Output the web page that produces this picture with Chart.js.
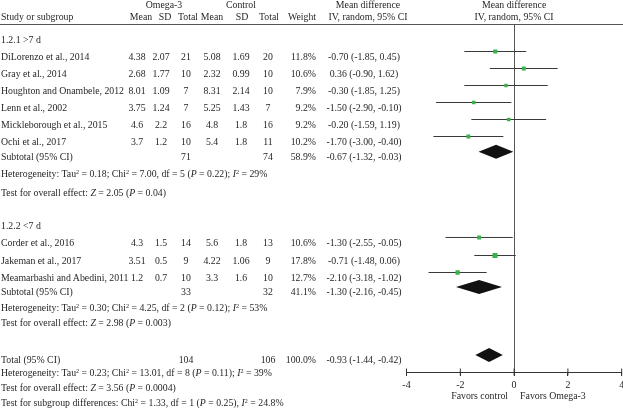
<!DOCTYPE html>
<html><head><meta charset="utf-8">
<script src="https://cdn.jsdelivr.net/npm/chart.js@4"></script>
<style>
html,body{margin:0;padding:0;background:#fff;}
#wrap{position:relative;width:623px;height:418px;overflow:hidden;font-family:"Liberation Serif","Times New Roman",serif;font-size:9.8px;color:#231f20;}
#c{position:absolute;left:0;top:0;}
.t{position:absolute;white-space:nowrap;line-height:12px;transform:translateY(-50%);}
.t.c{transform:translate(-50%,-50%);}
.t.r{transform:translate(-100%,-50%);}
sup{font-size:0.62em;line-height:0;vertical-align:0.55em;}
#hline{position:absolute;left:0;top:24px;width:623px;height:1px;background:#555;}
</style></head>
<body><div id="wrap"><canvas id="c" width="623" height="418"></canvas><div id="hline"></div></div>
<script>
// ---------- data ----------
const studies = ["DiLorenzo et al., 2014","Gray et al., 2014","Houghton and Onambele, 2012","Lenn et al., 2002","Mickleborough et al., 2015","Ochi et al., 2017","Corder et al., 2016","Jakeman et al., 2017","Meamarbashi and Abedini, 2011"];
const studyGroup = [0,0,0,0,0,0,1,1,1];
const omegaMean = [4.38,2.68,8.01,3.75,4.6,3.7,4.3,3.51,1.2];
const omegaSD   = [2.07,1.77,1.09,1.24,2.2,1.2,1.5,0.5,0.7];
const omegaN    = [21,10,7,7,16,10,14,9,10];
const ctrlMean  = [5.08,2.32,8.31,5.25,4.8,5.4,5.6,4.22,3.3];
const ctrlSD    = [1.69,0.99,2.14,1.43,1.8,1.8,1.8,1.06,1.6];
const ctrlN     = [20,10,10,7,16,11,13,9,10];
const weights   = [11.8,10.6,7.9,9.2,9.2,10.2,10.6,17.8,12.7];
const md        = [-0.70,0.36,-0.30,-1.50,-0.20,-1.70,-1.30,-0.71,-2.10];
const ciLow     = [-1.85,-0.90,-1.85,-2.90,-1.59,-3.00,-2.55,-1.48,-3.18];
const ciHigh    = [0.45,1.62,1.25,-0.10,1.19,-0.40,-0.05,0.06,-1.02];

const groupNames = ["1.2.1 >7 d","1.2.2 <7 d"];
const subOmegaN = [71,33];
const subCtrlN  = [74,32];
const subWeight = [58.9,41.1];
const subMD     = [-0.67,-1.30];
const subLow    = [-1.32,-2.16];
const subHigh   = [-0.03,-0.45];
const subTau2   = ["0.18","0.30"];
const subChi2   = ["7.00","4.25"];
const subDf     = [5,2];
const subHetP   = ["0.22","0.12"];
const subI2     = [29,53];
const subZ      = ["2.05","2.98"];
const subZP     = ["0.04","0.003"];

const totOmegaN = 104, totCtrlN = 106, totWeight = 100.0;
const totMD = -0.93, totLow = -1.44, totHigh = -0.42;
const totTau2 = "0.23", totChi2 = "13.01", totDf = 8, totHetP = "0.11", totI2 = 39;
const totZ = "3.56", totZP = "0.0004";
const sgChi2 = "1.33", sgDf = 1, sgP = "0.25", sgI2 = "24.8";

const xTicks = [-4,-2,0,2,4];

// ---------- layout (row line numbers) ----------
const groupHeadLine = [0, 10.95];
const studyLine = [1,2,3,4,5,6, 11.94,13,14];
const subLine = [6.9, 14.85];
const hetLine = [7.9, 15.75];
const testLine = [9, 16.66];
const totalLine = 18.85, totHetLine = 19.57, totTestLine = 20.45, sgLine = 21.34;
const Y_MIN = -0.559, Y_MAX = 19.853;

const f2 = v => v.toFixed(2);
const ciText = (m,l,h) => `${f2(m)} (${f2(l)}, ${f2(h)})`;

// ---------- chart ----------
const ciSets = studies.map((s,i)=>({
  data:[{x:ciLow[i],y:studyLine[i]},{x:ciHigh[i],y:studyLine[i]}],
  showLine:true, borderColor:'#3a3a3a', borderWidth:1, pointRadius:0, order:2
}));
const markerSet = {
  data: studies.map((s,i)=>({x:md[i],y:studyLine[i]})),
  pointStyle:'rect', pointRadius: weights.map(w=>Math.sqrt(w)*0.85),
  backgroundColor:'#38b24a', borderWidth:0, order:1
};
const tickSet = {
  data: xTicks.map(v=>({x:v,y:Y_MAX})),
  pointStyle:'line', rotation:90, pointRadius:3.5, borderColor:'#333', borderWidth:1, clip:false, order:0
};
const pooled = [
  {md:subMD[0],low:subLow[0],high:subHigh[0],line:subLine[0]},
  {md:subMD[1],low:subLow[1],high:subHigh[1],line:subLine[1]},
  {md:totMD,low:totLow,high:totHigh,line:totalLine}
];
const diamondPlugin = {
  id:'diamonds',
  afterDatasetsDraw(chart){
    const {ctx, scales:{x,y}} = chart;
    ctx.save(); ctx.fillStyle='#111';
    pooled.forEach(p=>{
      const yc = y.getPixelForValue(p.line);
      ctx.beginPath();
      ctx.moveTo(x.getPixelForValue(p.low), yc);
      ctx.lineTo(x.getPixelForValue(p.md), yc-7);
      ctx.lineTo(x.getPixelForValue(p.high), yc);
      ctx.lineTo(x.getPixelForValue(p.md), yc+7);
      ctx.closePath(); ctx.fill();
    });
    ctx.restore();
  }
};
const chart = new Chart(document.getElementById('c'), {
  type:'scatter',
  data:{datasets:[...ciSets, markerSet, tickSet]},
  options:{
    responsive:false, animation:false, devicePixelRatio:1,
    layout:{autoPadding:false,padding:{left:406.5,right:0,top:25,bottom:26}},
    plugins:{legend:{display:false},tooltip:{enabled:false}},
    scales:{
      x:{type:'linear',min:-4,max:4,
        afterFit(s){ s.height = 20; s.paddingRight = 1.3; s.paddingLeft = 0; },
        ticks:{stepSize:2,padding:3,color:'#231f20',font:{family:'"Liberation Serif", serif',size:10},callback:v=>String(v)},
        grid:{drawOnChartArea:true,drawTicks:true,tickLength:4,tickColor:'#333',
          color:c=>(c.tick && c.tick.value===0)?'#555':'rgba(0,0,0,0)',lineWidth:1},
        border:{display:true,color:'#333',width:1}
      },
      y:{type:'linear',display:false,reverse:true,min:Y_MIN,max:Y_MAX}
    }
  },
  plugins:[diamondPlugin]
});

// ---------- text table ----------
const wrap = document.getElementById('wrap');
const yScale = chart.scales.y;
const TXT_OFF = 5.5;
const rowY = L => yScale.getPixelForValue(L) + TXT_OFF;
function put(html, x, y, cls){
  const d = document.createElement('div');
  d.className = 't' + (cls ? ' ' + cls : '');
  d.style.left = x + 'px'; d.style.top = y + 'px';
  d.innerHTML = html; wrap.appendChild(d);
}
const esc = s => s.replace(/&/g,'&amp;').replace(/</g,'&lt;').replace(/>/g,'&gt;');
const COL = {name:1, oMean:137, oSD:161, oN:186, cMean:212, cSD:241, cN:268, weightR:316, md:364};
const plotCenter = (chart.chartArea.left + chart.chartArea.right)/2;

// headers
put('Omega-3',164,5,'c'); put('Control',241,5,'c');
put('Mean difference',368,5,'c'); put('Mean difference',plotCenter,5,'c');
put('Study or subgroup',COL.name,17);
put('Mean',141,17,'c'); put('SD',165,17,'c'); put('Total',188,17,'c');
put('Mean',212,17,'c'); put('SD',242,17,'c'); put('Total',269,17,'c');
put('Weight',302,17,'c');
put('IV, random, 95% CI',368,17,'c'); put('IV, random, 95% CI',plotCenter,17,'c');

// groups
groupNames.forEach((g,gi)=>{
  put(esc(g),COL.name,rowY(groupHeadLine[gi]));
  studies.forEach((s,i)=>{
    if(studyGroup[i]!==gi) return;
    const y = rowY(studyLine[i]);
    put(esc(s),COL.name,y);
    put(String(omegaMean[i]),COL.oMean,y,'c');
    put(String(omegaSD[i]),COL.oSD,y,'c');
    put(String(omegaN[i]),COL.oN,y,'c');
    put(String(ctrlMean[i]),COL.cMean,y,'c');
    put(String(ctrlSD[i]),COL.cSD,y,'c');
    put(String(ctrlN[i]),COL.cN,y,'c');
    put(weights[i].toFixed(1)+'%',COL.weightR,y,'r');
    put(ciText(md[i],ciLow[i],ciHigh[i]),COL.md,y,'c');
  });
  const ys = rowY(subLine[gi]);
  put('Subtotal (95% CI)',COL.name,ys);
  put(String(subOmegaN[gi]),COL.oN,ys,'c');
  put(String(subCtrlN[gi]),COL.cN,ys,'c');
  put(subWeight[gi].toFixed(1)+'%',COL.weightR,ys,'r');
  put(ciText(subMD[gi],subLow[gi],subHigh[gi]),COL.md,ys,'c');
  put(`Heterogeneity: Tau<sup>2</sup> = ${subTau2[gi]}; Chi<sup>2</sup> = ${subChi2[gi]}, df = ${subDf[gi]} (<i>P</i> = ${subHetP[gi]}); <i>I</i><sup>2</sup> = ${subI2[gi]}%`,COL.name,rowY(hetLine[gi]));
  put(`Test for overall effect: <i>Z</i> = ${subZ[gi]} (<i>P</i> = ${subZP[gi]})`,COL.name,rowY(testLine[gi]));
});

// total
const yt = rowY(totalLine);
put('Total (95% CI)',COL.name,yt);
put(String(totOmegaN),COL.oN,yt,'c');
put(String(totCtrlN),COL.cN,yt,'c');
put(totWeight.toFixed(1)+'%',COL.weightR,yt,'r');
put(ciText(totMD,totLow,totHigh),COL.md,yt,'c');
put(`Heterogeneity: Tau<sup>2</sup> = ${totTau2}; Chi<sup>2</sup> = ${totChi2}, df = ${totDf} (<i>P</i> = ${totHetP}); <i>I</i><sup>2</sup> = ${totI2}%`,COL.name,rowY(totHetLine));
put(`Test for overall effect: <i>Z</i> = ${totZ} (<i>P</i> = ${totZP})`,COL.name,rowY(totTestLine));
put(`Test for subgroup differences: Chi<sup>2</sup> = ${sgChi2}, df = ${sgDf} (<i>P</i> = ${sgP}), <i>I</i><sup>2</sup> = ${sgI2}%`,COL.name,rowY(sgLine));

// favours labels
const zeroX = chart.scales.x.getPixelForValue(0);
put('Favors control',zeroX-6,396,'r');
put('Favors Omega-3',zeroX+6,396);
</script>
</body></html>
